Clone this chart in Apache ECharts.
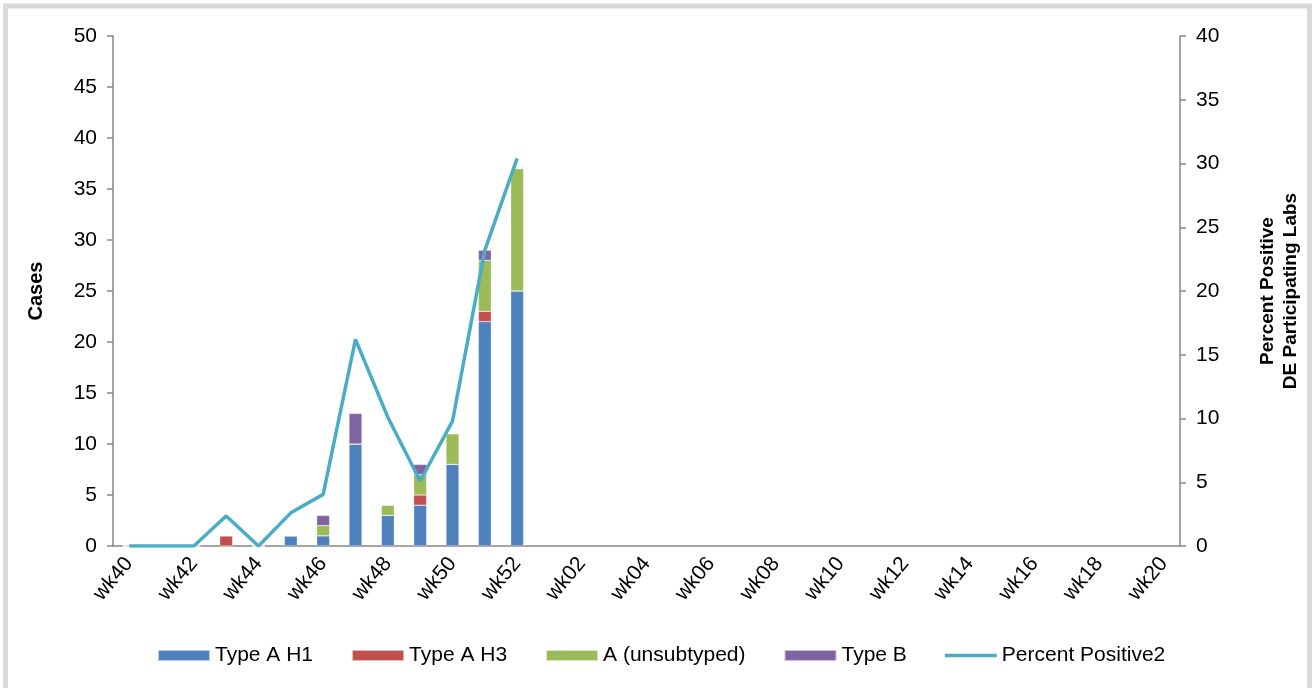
<!DOCTYPE html>
<html>
<head>
<meta charset="utf-8">
<script src="https://cdn.jsdelivr.net/npm/echarts@6/dist/echarts.min.js"></script>
<style>
html,body{margin:0;padding:0;background:#fff;}
#chart{width:1313px;height:688px;}
</style>
</head>
<body>
<div id="chart"></div>
<script>
var weeks = ['wk40','wk41','wk42','wk43','wk44','wk45','wk46','wk47','wk48','wk49','wk50','wk51','wk52',
  'wk01','wk02','wk03','wk04','wk05','wk06','wk07','wk08','wk09','wk10','wk11','wk12','wk13','wk14','wk15','wk16','wk17','wk18','wk19','wk20'];
var typeAH1 = [0,0,0,0,0,1,1,10,3,4,8,22,25];
var typeAH3 = [0,0,0,1,0,0,0,0,0,1,0,1,0];
var aUnsubtyped = [0,0,0,0,0,0,1,0,1,2,3,5,12];
var typeB = [0,0,0,0,0,0,1,3,0,1,0,1,0];
var percentPositive = [0,0,0,2.35,0,2.6,4.05,16.2,10.1,5.1,9.8,23.2,30.4];

var FONT = 'Liberation Sans, Arial, sans-serif';
var chart = echarts.init(document.getElementById('chart'));
function barSeries(name, data, color) {
  return {
    name: name, type: 'bar', stack: 'cases', yAxisIndex: 0, barWidth: '40%',
    data: data,
    itemStyle: { color: color, borderColor: 'rgba(255,255,255,0.6)', borderWidth: 0.5 },
    emphasis: { disabled: true }
  };
}
var lineIcon = 'path://M0,0 L0.01,0 L0.01,0.01 Z M0,3.8 L52,3.8 L52,7.2 L0,7.2 Z M0,11 L0.01,11 L0.01,11.01 Z';
chart.setOption({
  animation: false,
  textStyle: { fontFamily: FONT },
  graphic: [{
    type: 'rect', silent: true,
    shape: { x: 5.5, y: 6, width: 1304, height: 700 },
    style: { fill: 'none', stroke: '#d9d9d9', lineWidth: 5 }
  }],
  grid: { left: 113, right: 133, top: 36, bottom: 142 },
  legend: {
    left: 157, top: 645, padding: 0,
    icon: 'rect',
    itemWidth: 52, itemHeight: 11, itemGap: 38,
    textStyle: { fontSize: 21, color: '#000', fontFamily: FONT },
    data: ['Type A H1','Type A H3','A (unsubtyped)','Type B',
      { name: 'Percent Positive2', icon: lineIcon }]
  },
  xAxis: {
    type: 'category', data: weeks, boundaryGap: true,
    axisLine: { lineStyle: { color: '#868686', width: 1.5 } },
    axisTick: { interval: 0, length: 6, lineStyle: { color: '#868686', width: 1.5 } },
    axisLabel: { interval: 1, rotate: 50, fontSize: 21, color: '#000', margin: 14, fontFamily: FONT }
  },
  yAxis: [{
    type: 'value', min: 0, max: 50, interval: 5,
    name: 'Cases', nameLocation: 'middle', nameGap: 67, nameRotate: 90,
    nameTextStyle: { fontSize: 20, fontWeight: 'bold', color: '#000', fontFamily: FONT },
    axisLine: { show: true, lineStyle: { color: '#868686', width: 1.5 } },
    axisTick: { show: true, length: 6, lineStyle: { color: '#868686', width: 1.5 } },
    axisLabel: { fontSize: 21, color: '#000', margin: 16, fontFamily: FONT },
    splitLine: { show: false }
  }, {
    type: 'value', min: 0, max: 40, interval: 5, position: 'right',
    name: 'Percent Positive\nDE Participating Labs', nameLocation: 'middle', nameGap: 76, nameRotate: 90,
    nameTextStyle: { fontSize: 19, fontWeight: 'bold', color: '#000', fontFamily: FONT, lineHeight: 23, align: 'center' },
    axisLine: { show: true, lineStyle: { color: '#868686', width: 1.5 } },
    axisTick: { show: true, length: 6, lineStyle: { color: '#868686', width: 1.5 } },
    axisLabel: { fontSize: 21, color: '#000', margin: 16, fontFamily: FONT },
    splitLine: { show: false }
  }],
  series: [
    barSeries('Type A H1', typeAH1, '#4F81BD'),
    barSeries('Type A H3', typeAH3, '#C0504D'),
    barSeries('A (unsubtyped)', aUnsubtyped, '#9BBB59'),
    barSeries('Type B', typeB, '#8064A2'),
    {
      name: 'Percent Positive2', type: 'line', yAxisIndex: 1, data: percentPositive,
      showSymbol: false, symbol: 'none',
      lineStyle: { color: '#4BACC6', width: 3.5 }, itemStyle: { color: '#4BACC6' },
      emphasis: { disabled: true }
    }
  ]
});
</script>
</body>
</html>
